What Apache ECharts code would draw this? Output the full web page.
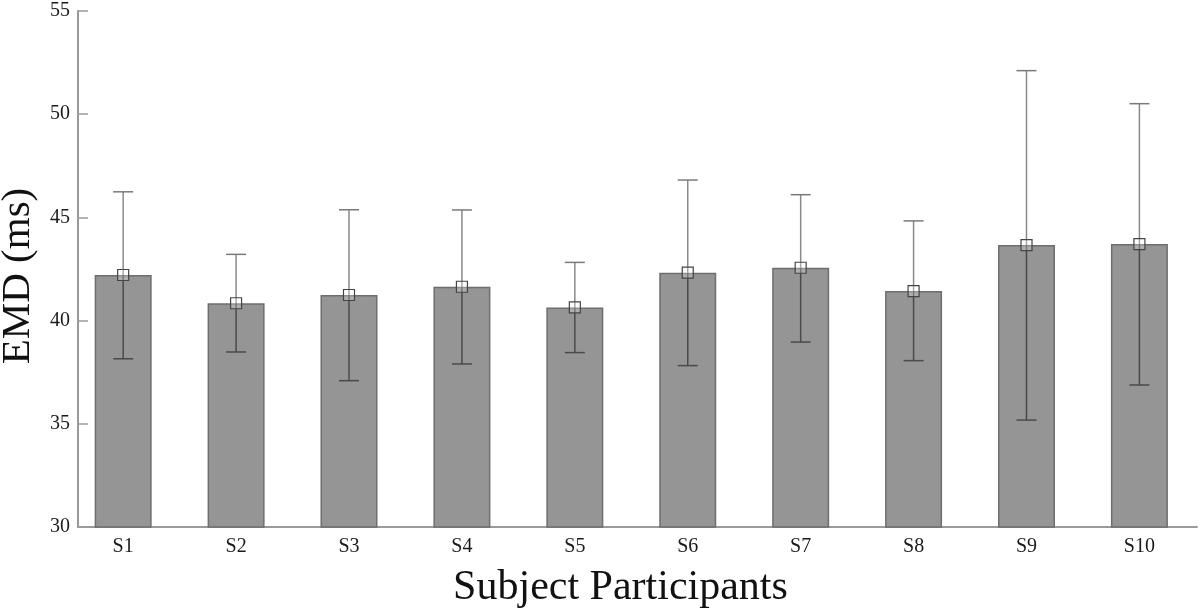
<!DOCTYPE html>
<html>
<head>
<meta charset="utf-8">
<script src="https://cdn.jsdelivr.net/npm/echarts@6/dist/echarts.min.js"></script>
<style>
  html, body { margin: 0; padding: 0; background: #fff; }
  #chart { width: 1200px; height: 612px; }
</style>
</head>
<body>
<div id="chart"></div>
<script>
const subjects = ["S1", "S2", "S3", "S4", "S5", "S6", "S7", "S8", "S9", "S10"];
const meanEMD = [42.21, 40.84, 41.24, 41.64, 40.64, 42.32, 42.56, 41.43, 43.66, 43.71];
const upperEMD = [46.24, 43.21, 45.37, 45.36, 42.82, 46.81, 46.10, 44.83, 52.11, 50.51];
const lowerEMD = [38.15, 38.48, 37.09, 37.90, 38.45, 37.82, 38.96, 38.06, 35.18, 36.88];
const yTicks = [30, 35, 40, 45, 50, 55];

const serif = "Liberation Serif";

const barData = meanEMD.map(function(v, i) { return [i + 1, v]; });
const errData = meanEMD.map(function(v, i) { return [i + 1, v, lowerEMD[i], upperEMD[i]]; });

const chart = echarts.init(document.getElementById("chart"));

const renderError = function(params, api) {
  const x = api.value(0);
  const mid = api.coord([x, api.value(1)]);
  const lo = api.coord([x, api.value(2)]);
  const hi = api.coord([x, api.value(3)]);
  const cap = 10;
  const sq = 5.5;
  return {
    type: "group",
    children: [
      { type: "line", shape: { x1: hi[0], y1: hi[1], x2: mid[0], y2: mid[1] },
        style: { stroke: "#8a8a8a", lineWidth: 1.5 } },
      { type: "line", shape: { x1: mid[0], y1: mid[1], x2: lo[0], y2: lo[1] },
        style: { stroke: "#4a4a4a", lineWidth: 1.5 } },
      { type: "line", shape: { x1: hi[0] - cap, y1: hi[1], x2: hi[0] + cap, y2: hi[1] },
        style: { stroke: "#7a7a7a", lineWidth: 1.5 } },
      { type: "line", shape: { x1: lo[0] - cap, y1: lo[1], x2: lo[0] + cap, y2: lo[1] },
        style: { stroke: "#4a4a4a", lineWidth: 1.5 } },
      { type: "rect", shape: { x: mid[0] - sq, y: mid[1] - sq, width: sq * 2, height: sq * 2 },
        style: { fill: "rgba(255,255,255,0.25)", stroke: "#444", lineWidth: 1.2 } }
    ]
  };
};

chart.setOption({
  animation: false,
  backgroundColor: "#fff",
  grid: { left: 78, right: 3, top: 11, bottom: 85, outerBoundsMode: "none", containLabel: false },
  xAxis: {
    type: "value",
    min: 0.6,
    max: 10.51,
    splitNumber: 10,
    minInterval: 1,
    name: "Subject Participants",
    nameLocation: "middle",
    nameGap: 40,
    nameTextStyle: { fontFamily: serif, fontSize: 42, color: "#111", padding: [0, 34, 0, 0] },
    axisLine: { lineStyle: { color: "#9a9a9a", width: 2 } },
    axisTick: { show: false },
    splitLine: { show: false },
    axisLabel: {
      fontFamily: serif,
      fontSize: 20,
      color: "#1a1a1a",
      margin: 10,
      showMinLabel: false,
      showMaxLabel: false,
      formatter: function(v) {
        return Number.isInteger(v) && subjects[v - 1] ? subjects[v - 1] : "";
      }
    }
  },
  yAxis: {
    type: "value",
    min: yTicks[0],
    max: yTicks[yTicks.length - 1],
    interval: 5,
    name: "EMD (ms)",
    nameLocation: "middle",
    nameGap: 32,
    nameRotate: 90,
    nameTextStyle: { fontFamily: serif, fontSize: 41, color: "#111", padding: [0, 14, 0, 0] },
    axisLine: { show: true, lineStyle: { color: "#9a9a9a", width: 2 } },
    axisTick: { show: true, inside: true, length: 10, lineStyle: { color: "#9a9a9a", width: 1.5 } },
    splitLine: { show: false },
    axisLabel: { fontFamily: serif, fontSize: 20, color: "#1a1a1a", margin: 8 }
  },
  series: [
    {
      name: "EMD",
      type: "bar",
      data: barData,
      barWidth: 57,
      itemStyle: { color: "#959595", borderColor: "#6e6e6e", borderWidth: 1.5 }
    },
    {
      name: "SD",
      type: "custom",
      renderItem: renderError,
      data: errData,
      encode: { x: 0, y: [2, 3] },
      z: 3
    }
  ]
});
</script>
</body>
</html>
